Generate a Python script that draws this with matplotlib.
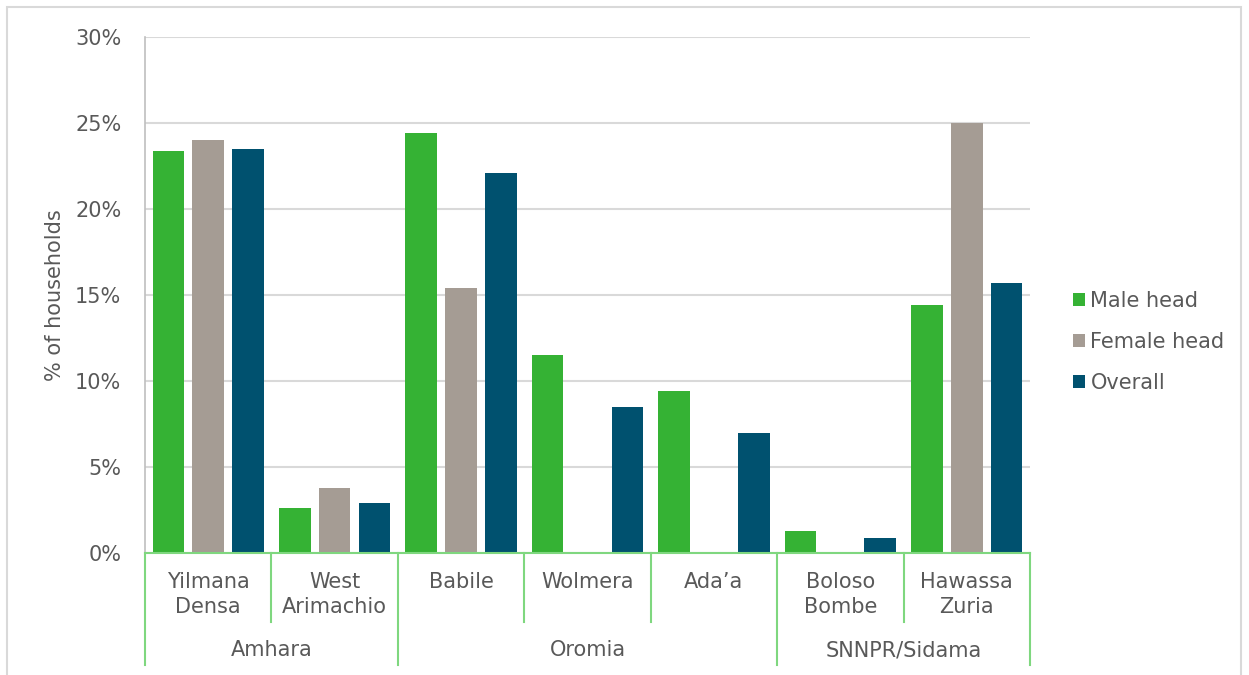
import matplotlib
matplotlib.use("Agg")
import matplotlib.pyplot as plt
import matplotlib.patches as mpatches
import numpy as np

# --- data ---
districts = ["Yilmana\nDensa", "West\nArimachio", "Babile", "Wolmera", "Ada\u2019a",
             "Boloso\nBombe", "Hawassa\nZuria"]
regions = ["Amhara", "Oromia", "SNNPR/Sidama"]
region_spans = [(0, 2), (2, 5), (5, 7)]  # district index ranges per region
male_head = [23.4, 2.6, 24.4, 11.5, 9.4, 1.3, 14.4]
female_head = [24.0, 3.8, 15.4, 0.0, 0.0, 0.0, 25.0]
overall = [23.5, 2.9, 22.1, 8.5, 7.0, 0.9, 15.7]
yticks = [0, 5, 10, 15, 20, 25, 30]

c_male = "#35B234"
c_female = "#A59C94"
c_overall = "#00516F"
c_text = "#595959"
c_axis = "#7FD77F"
c_grid = "#D9D9D9"
fs = 15

W, H = 1249, 675
fig = plt.figure(figsize=(W / 100, H / 100), dpi=100)
plt.rcParams["font.family"] = ["DejaVu Sans"]

# plot area in pixels
x0, x1, ytop, ybot = 145, 1030, 37, 553
ax = fig.add_axes([x0 / W, (H - ybot) / H, (x1 - x0) / W, (ybot - ytop) / H])

x = np.arange(len(districts))
bw = 0.25
step = 0.315
ax.bar(x - step, male_head, bw, color=c_male, label="Male head", zorder=3)
ax.bar(x, female_head, bw, color=c_female, label="Female head", zorder=3)
ax.bar(x + step, overall, bw, color=c_overall, label="Overall", zorder=3)

ax.set_xlim(-0.5, len(districts) - 0.5)
ax.set_ylim(0, 30)
ax.set_yticks(yticks)
ax.set_yticklabels([f"{t}%" for t in yticks], color=c_text, fontsize=fs)
ax.tick_params(axis="y", length=0, pad=17)
ax.set_xticks([])
ax.yaxis.grid(True, color=c_grid, linewidth=1.5, zorder=0)

for side in ["top", "right", "bottom"]:
    ax.spines[side].set_visible(False)
ax.spines["left"].set_color("#BFBFBF")
ax.spines["left"].set_linewidth(1.2)

ax.set_ylabel("% of households", color=c_text, fontsize=fs, labelpad=7)

# category axis: baseline, separators and labels below the plot
def ay(py):
    return (ybot - py) / (ybot - ytop)

trans = ax.get_xaxis_transform()
ax.plot([-0.5, len(districts) - 0.5], [0, 0], color=c_axis, lw=1.5,
        transform=trans, clip_on=False, zorder=4)
for i in range(len(districts) + 1):
    xb = i - 0.5
    is_region_edge = any(xb == s - 0.5 or xb == e - 0.5 for s, e in region_spans)
    ybottom = ay(665) if is_region_edge else ay(622)
    ax.plot([xb, xb], [0, ybottom], color=c_axis, lw=1.5,
            transform=trans, clip_on=False)

for i, name in enumerate(districts):
    ax.text(i, ay(572), name, transform=trans, ha="center", va="top",
            color=c_text, fontsize=fs, linespacing=1.3)

for name, (s, e) in zip(regions, region_spans):
    ax.text((s + e - 1) / 2, ay(650), name, transform=trans, ha="center",
            va="center", color=c_text, fontsize=fs)

leg = fig.legend(loc="center left", bbox_to_anchor=(1054 / W, (H - 342) / H),
                 frameon=False, fontsize=fs, labelcolor=c_text,
                 handlelength=0.6, handleheight=0.6, handletextpad=0.25,
                 labelspacing=1.0)

# light frame around the chart
fig.patches.append(mpatches.Rectangle((7 / W, -0.02), (1241 - 7) / W, 1.02 - 7 / H,
                                      transform=fig.transFigure, fill=False,
                                      edgecolor=c_grid, lw=1.5))

fig.savefig("out.png", dpi=100)
